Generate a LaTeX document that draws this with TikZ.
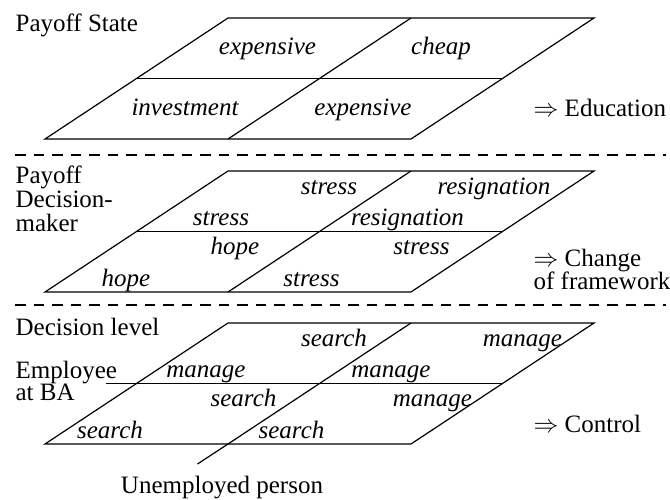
\documentclass[tikz,border=0pt]{standalone}
\usepackage{fontspec}
\setmainfont{Liberation Serif}
\begin{document}
\begin{tikzpicture}[x=1pt,y=-1pt,line width=1.2pt,
  cell/.style={font=\fontsize{25}{27}\selectfont\itshape,inner sep=0pt,anchor=base},
  side/.style={font=\fontsize{25}{27}\selectfont,inner sep=0pt,anchor=base west},
  sepline/.style={dash pattern=on 10.5pt off 8pt,line width=1.2pt}]
\useasboundingbox (0,0) rectangle (670,499);
% panels
\foreach \p/\T in {a/18,b/171,c/323}{
  \coordinate (\p-tl) at (228,\T);
  \coordinate (\p-tr) at (594,\T);
  \coordinate (\p-ml) at (136.5,\T+60.5);
  \coordinate (\p-mr) at (502.5,\T+60.5);
  \coordinate (\p-bl) at (45,\T+121);
  \coordinate (\p-br) at (411,\T+121);
  \coordinate (\p-tm) at (411,\T);
  \coordinate (\p-bm) at (228,\T+121);
  \draw (\p-tl) -- (\p-tr) -- (\p-br) -- (\p-bl) -- cycle;
  \draw (\p-tm) -- (\p-bm);
}
\draw (a-ml) -- (a-mr);
\draw (b-ml) -- (b-mr);
\coordinate (c-ext) at (106,383.5);
\coordinate (c-end) at (197.5,464);
\draw (c-ext) -- (c-mr);
\draw (c-bm) -- (c-end);
% separators
\coordinate (s1l) at (15,155); \coordinate (s1r) at (666,155);
\coordinate (s2l) at (15,305); \coordinate (s2r) at (666,305);
\draw[sepline] (s1l) -- (s1r);
\draw[sepline] (s2l) -- (s2r);
% panel a texts
\node[side] (la) at (15,31) {Payoff State};
\node[cell] (a1) at (267.5,54) {expensive};
\node[cell] (a2) at (441,54) {cheap};
\node[cell] (a3) at (185,115) {investment};
\node[cell] (a4) at (363,115) {expensive};
\node[side] (ra) at (533,116) {$\Rightarrow$ Education};
% panel b texts
\node[side] (lb1) at (15,183) {Payoff};
\node[side] (lb2) at (15,207) {Decision-};
\node[side] (lb3) at (15,231) {maker};
\node[cell] (b1) at (329,194) {stress};
\node[cell] (b2) at (494,194) {resignation};
\node[cell] (b3) at (221,225) {stress};
\node[cell] (b4) at (407.5,225) {resignation};
\node[cell] (b5) at (235,254) {hope};
\node[cell] (b6) at (421.5,254) {stress};
\node[cell] (b7) at (126,286) {hope};
\node[cell] (b8) at (311.5,286) {stress};
\node[side] (rb1) at (533,266) {$\Rightarrow$ Change};
\node[side] (rb2) at (533,289) {of framework};
% panel c texts
\node[side] (lc1) at (15,335) {Decision level};
\node[side] (lc2) at (15,378) {Employee};
\node[side] (lc3) at (15,400) {at BA};
\node[cell] (c1) at (334,346) {search};
\node[cell] (c2) at (522.5,346) {manage};
\node[cell] (c3) at (206,377) {manage};
\node[cell] (c4) at (391,377) {manage};
\node[cell] (c5) at (243.5,406) {search};
\node[cell] (c6) at (432.5,406) {manage};
\node[cell] (c7) at (110,438) {search};
\node[cell] (c8) at (291.5,438) {search};
\node[side] (rc) at (533,432) {$\Rightarrow$ Control};
\node[side,anchor=base] (un) at (222,493) {Unemployed person};
\end{tikzpicture}
\end{document}
